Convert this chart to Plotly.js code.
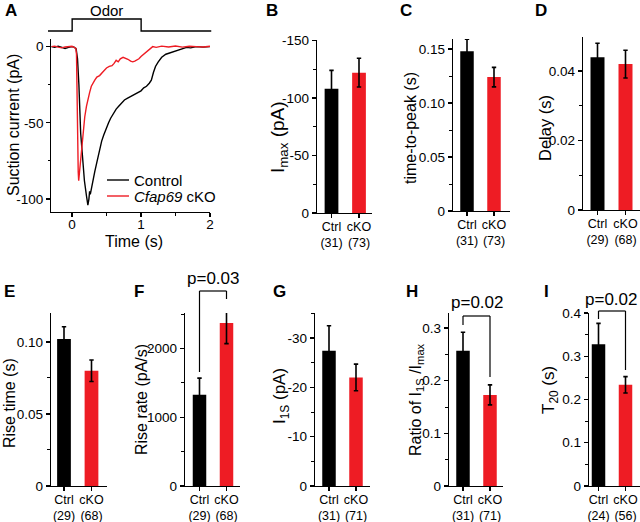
<!DOCTYPE html>
<html><head><meta charset="utf-8">
<script src="https://cdn.plot.ly/plotly-3.0.1.min.js"></script>
<style>html,body{margin:0;padding:0;background:#fff}#chart{width:640px;height:522px}</style>
</head><body><div id="chart"></div>
<script>
// ---------- Panel A: odor response traces ----------
const timeCtrl = [-0.3,-0.25,-0.2,-0.15,-0.1,-0.05,0,0.03,0.06,0.08,0.1,0.126,0.15,0.18,0.21,0.23,0.245,0.255,0.265,0.28,0.3,0.33,0.36,0.4,0.43,0.46,0.5,0.53,0.56,0.6,0.64,0.68,0.72,0.76,0.8,0.84,0.88,0.92,0.96,1.0,1.04,1.08,1.12,1.15,1.18,1.21,1.25,1.3,1.36,1.42,1.5,1.56,1.61,1.66,1.72,1.8,1.9,2.0];
const currentCtrl = [0,-0.4,0.3,-0.6,-1.2,-0.5,0,-0.3,-1.5,-8,-25,-57,-72,-88,-98,-104,-100,-95,-97,-93,-88,-82,-76,-67,-62,-58,-53,-50,-47,-44,-41,-39,-37,-35,-34,-33,-32,-31,-30,-29,-27,-26,-24,-22,-17,-13,-10,-7,-5,-4,-2.8,-2,-1,-0.5,-0.8,0,-0.3,0];
const timeKO = [-0.3,-0.25,-0.2,-0.15,-0.1,-0.05,0,0.03,0.055,0.065,0.077,0.09,0.097,0.105,0.12,0.14,0.16,0.185,0.21,0.235,0.256,0.28,0.3,0.33,0.36,0.4,0.44,0.48,0.5,0.54,0.58,0.61,0.64,0.67,0.7,0.74,0.78,0.81,0.85,0.88,0.91,0.94,0.97,1.0,1.04,1.08,1.12,1.17,1.22,1.3,1.4,1.5,1.6,1.7,1.8,1.9,2.0];
const currentKO = [0,0.3,-0.3,-0.8,-0.2,0,0.2,-0.5,-1,-5,-57,-82,-88,-84,-74,-64,-57,-46,-39,-33,-30,-26,-24,-22,-20,-19,-17,-15,-14,-13,-12.5,-11,-9,-10,-8,-7,-7.5,-8.3,-9.5,-10,-9.5,-9,-8,-6.5,-5,-3.3,-1.5,0,-0.5,0.3,-0.2,0.4,-0.3,0.2,0,-0.2,0.2];
const odorTime = [-0.35,0,0,1,1,2.02];
const odorLevel = [0,0,1,1,0,0];

// ---------- Bar panels ----------
const groups = ['Ctrl','cKO'];
const imaxMean = [-108,-122],   imaxErr = [16,12.5],        imaxN = [31,73];
const ttpMean = [0.148,0.124],  ttpErr = [0.011,0.009],     ttpN = [31,73];
const delayMean = [0.044,0.042],delayErr = [0.004,0.004],   delayN = [29,68];
const riseTMean = [0.102,0.080],riseTErr = [0.0086,0.0075], riseTN = [29,68];
const riseRMean = [1325,2370],  riseRErr = [243,300],       riseRN = [29,68];
const i1sMean = [-27.4,-22.0],  i1sErr = [5.1,2.7],         i1sN = [31,71];
const ratioMean = [0.257,0.173],ratioErr = [0.035,0.019],   ratioN = [31,71];
const t20Mean = [0.328,0.234],  t20Err = [0.048,0.019],     t20N = [24,56];

// tick labels
const aYTicks = [0,-50,-100],        aYText = ['0','-50','-100'];
const aXTicks = [0,1,2],             aXText = ['0','1','2'];
const bTicks = [0,-50,-100,-150],    bText = ['0','-50','-100','-150'];
const cTicks = [0,0.05,0.10,0.15],   cText = ['0','0.05','0.10','0.15'];
const dTicks = [0,0.02,0.04],        dText = ['0','0.02','0.04'];
const eTicks = [0,0.05,0.10],        eText = ['0','0.05','0.10'];
const fTicks = [0,1000,2000],        fText = ['0','1000','2000'];
const gTicks = [0,-10,-20,-30],      gText = ['0','-10','-20','-30'];
const hTicks = [0,0.1,0.2,0.3],      hText = ['0','0.1','0.2','0.3'];
const iTicks = [0,0.1,0.2,0.3,0.4],  iText = ['0','0.1','0.2','0.3','0.4'];

const RED = '#ee1c24';
const FONT = 'Liberation Sans, Arial, Helvetica, sans-serif';
const W = 640, H = 522;
const px = x => x / W, py = y => 1 - y / H;

const traces = [];
const layout = {
  width: W, height: H, margin: {l:0,r:0,t:0,b:0},
  paper_bgcolor: '#fff', plot_bgcolor: 'rgba(0,0,0,0)',
  showlegend: false, font: {family: FONT, color: '#000'},
  annotations: [], shapes: []
};
const axBase = () => ({showline:true, linecolor:'#000', linewidth:1.2, ticks:'outside', ticklen:4,
  tickwidth:1.2, tickcolor:'#000', showgrid:false, zeroline:false, fixedrange:true,
  tickfont:{size:13.5, color:'#000', family:FONT}});

// Panel A axes
layout.xaxis = Object.assign(axBase(), {domain:[px(51.3),px(210)], range:[-0.3,2], anchor:'y',
  tickmode:'array', tickvals:aXTicks, ticktext:aXText, ticklabelstandoff:-4,
  minor:{dtick:0.5, tick0:0, ticks:'outside', ticklen:2.5, tickwidth:1, tickcolor:'#000'}});
layout.yaxis = Object.assign(axBase(), {domain:[py(212),py(39)], range:[-108.5,5], anchor:'x',
  tickmode:'array', tickvals:aYTicks, ticktext:aYText,
  minor:{dtick:25, tick0:0, ticks:'outside', ticklen:2.5, tickwidth:1, tickcolor:'#000'}});
layout.xaxis10 = {domain:[px(48),px(211.5)], range:[-0.35,2.02], anchor:'y10', visible:false, fixedrange:true};
layout.yaxis10 = {domain:[py(33),py(17)], range:[-0.167,1.167], anchor:'x10', visible:false, fixedrange:true};

traces.push({x:odorTime, y:odorLevel, xaxis:'x10', yaxis:'y10', mode:'lines', line:{color:'#000', width:1.4}, hoverinfo:'skip'});
traces.push({x:timeCtrl, y:currentCtrl, xaxis:'x', yaxis:'y', mode:'lines', name:'Control', line:{color:'#000', width:1.4}});
traces.push({x:timeKO, y:currentKO, xaxis:'x', yaxis:'y', mode:'lines', name:'Cfap69 cKO', line:{color:RED, width:1.4}});

// Bar panels: positions in pixels
const panels = [
  {id:2, mean:imaxMean, err:imaxErr, n:imaxN, l:317, r:372, t:40, b:213, c0:331.5, c1:359, top:-150.4, tv:bTicks, tt:bText, minor:25},
  {id:3, mean:ttpMean, err:ttpErr, n:ttpN, l:453, r:510, t:39, b:211, c0:467, c1:494, top:0.1593, tv:cTicks, tt:cText, minor:0.025},
  {id:4, mean:delayMean, err:delayErr, n:delayN, l:583, r:640, t:37, b:210, c0:597.5, c1:625.5, top:0.0498, tv:dTicks, tt:dText, minor:0.01},
  {id:5, mean:riseTMean, err:riseTErr, n:riseTN, l:51, r:107, t:313, b:486, c0:64, c1:91.5, top:0.1201, tv:eTicks, tt:eText, minor:0.025},
  {id:6, mean:riseRMean, err:riseRErr, n:riseRN, l:185, r:240, t:313, b:486, c0:199.5, c1:226.5, top:2515, tv:fTicks, tt:fText, minor:500},
  {id:7, mean:i1sMean, err:i1sErr, n:i1sN, l:315, r:370, t:313, b:486, c0:329, c1:356, top:-35.07, tv:gTicks, tt:gText, minor:5},
  {id:8, mean:ratioMean, err:ratioErr, n:ratioN, l:449, r:503, t:313, b:486, c0:463, c1:490, top:0.3285, tv:hTicks, tt:hText, minor:0.05},
  {id:9, mean:t20Mean, err:t20Err, n:t20N, l:589, r:640, t:313, b:486, c0:598.5, c1:625.5, top:0.4, tv:iTicks, tt:iText, minor:0.05}
];
panels.forEach(p => {
  const s = p.c1 - p.c0;
  const xa = 'xaxis' + p.id, ya = 'yaxis' + p.id;
  layout[xa] = Object.assign(axBase(), {domain:[px(p.l),px(p.r)], anchor:'y'+p.id, type:'category',
    range:[(p.l-p.c0)/s, (p.r-p.c0)/s], tickmode:'array', tickvals:groups, ticklabelstandoff:-2,
    ticktext:groups.map((g,i)=>g+'<br>('+p.n[i]+')'), tickfont:{size:12.5,color:'#000',family:FONT}});
  layout[ya] = Object.assign(axBase(), {domain:[py(p.b),py(p.t)], anchor:'x'+p.id,
    range:[0,p.top], tickmode:'array', tickvals:p.tv, ticktext:p.tt,
    minor:{dtick:p.minor, tick0:0, ticks:'outside', ticklen:2.5, tickwidth:1, tickcolor:'#000'}});
  traces.push({type:'bar', x:groups, y:p.mean, xaxis:'x'+p.id, yaxis:'y'+p.id, width:0.5,
    marker:{color:['#000',RED], line:{width:0}}, cliponaxis:false,
    error_y:{type:'data', array:p.err, visible:true, color:'#000', thickness:1.6, width:2.2}});
});

// Text helpers
function ann(text, x, y, size, extra) {
  layout.annotations.push(Object.assign({text:text, x:px(x), y:py(y), xref:'paper', yref:'paper',
    showarrow:false, xanchor:'center', yanchor:'middle', font:{size:size, color:'#000', family:FONT}}, extra||{}));
}
function line(x0,y0,x1,y1,color,w) {
  layout.shapes.push({type:'line', xref:'paper', yref:'paper', x0:px(x0), y0:py(y0), x1:px(x1), y1:py(y1),
    line:{color:color||'#000', width:w||1.2}});
}

// Panel letters
[['A',11,10],['B',272,10],['C',406,10],['D',541,10],['E',9,291],['F',139,291],['G',279,291],['H',412,291],['I',546,291]]
  .forEach(l => ann('<b>'+l[0]+'</b>', l[1], l[2], 17));

// Panel A texts
ann('Odor', 106.5, 10, 15);
ann('Suction current (pA)', 13, 125, 16, {textangle:-90});
ann('Time (s)', 134, 241, 16);
line(107,180,129,180,'#000',1.4);
line(107,196,129,196,RED,1.4);
ann('Control', 132, 180, 15, {xanchor:'left'});
ann('<i>Cfap69</i> cKO', 132, 196, 15, {xanchor:'left'});

// Y titles for bar panels
ann('I<sub>max</sub> (pA)', 279, 137, 19, {textangle:-90});
ann('time-to-peak (s)', 411, 128, 16, {textangle:-90});
ann('Delay (s)', 545, 128, 16.5, {textangle:-90});
ann('Rise time (s)', 9, 403, 16, {textangle:-90});
ann('Rise rate (pA/s)', 141, 400, 16, {textangle:-90});
ann('I<sub>1S</sub> (pA)', 281, 396, 17, {textangle:-90});
ann('Ratio of I<sub>1S</sub> /I<sub>max</sub>', 416, 400, 16, {textangle:-90});
ann('T<sub>20</sub> (s)', 550, 390, 17, {textangle:-90});

// Significance brackets
ann('p=0.03', 212.5, 278, 17);
line(199.5,291,226.5,291); line(199.5,291,199.5,372); line(226.5,291,226.5,299);
ann('p=0.02', 477, 302, 17);
line(463,316,490,316); line(463,316,463,325); line(490,316,490,377);
ann('p=0.02', 611, 299, 17);
line(598.5,311,625.5,311); line(598.5,311,598.5,319); line(625.5,311,625.5,370);

Plotly.newPlot('chart', traces, layout, {staticPlot:true, displayModeBar:false});
</script></body></html>
